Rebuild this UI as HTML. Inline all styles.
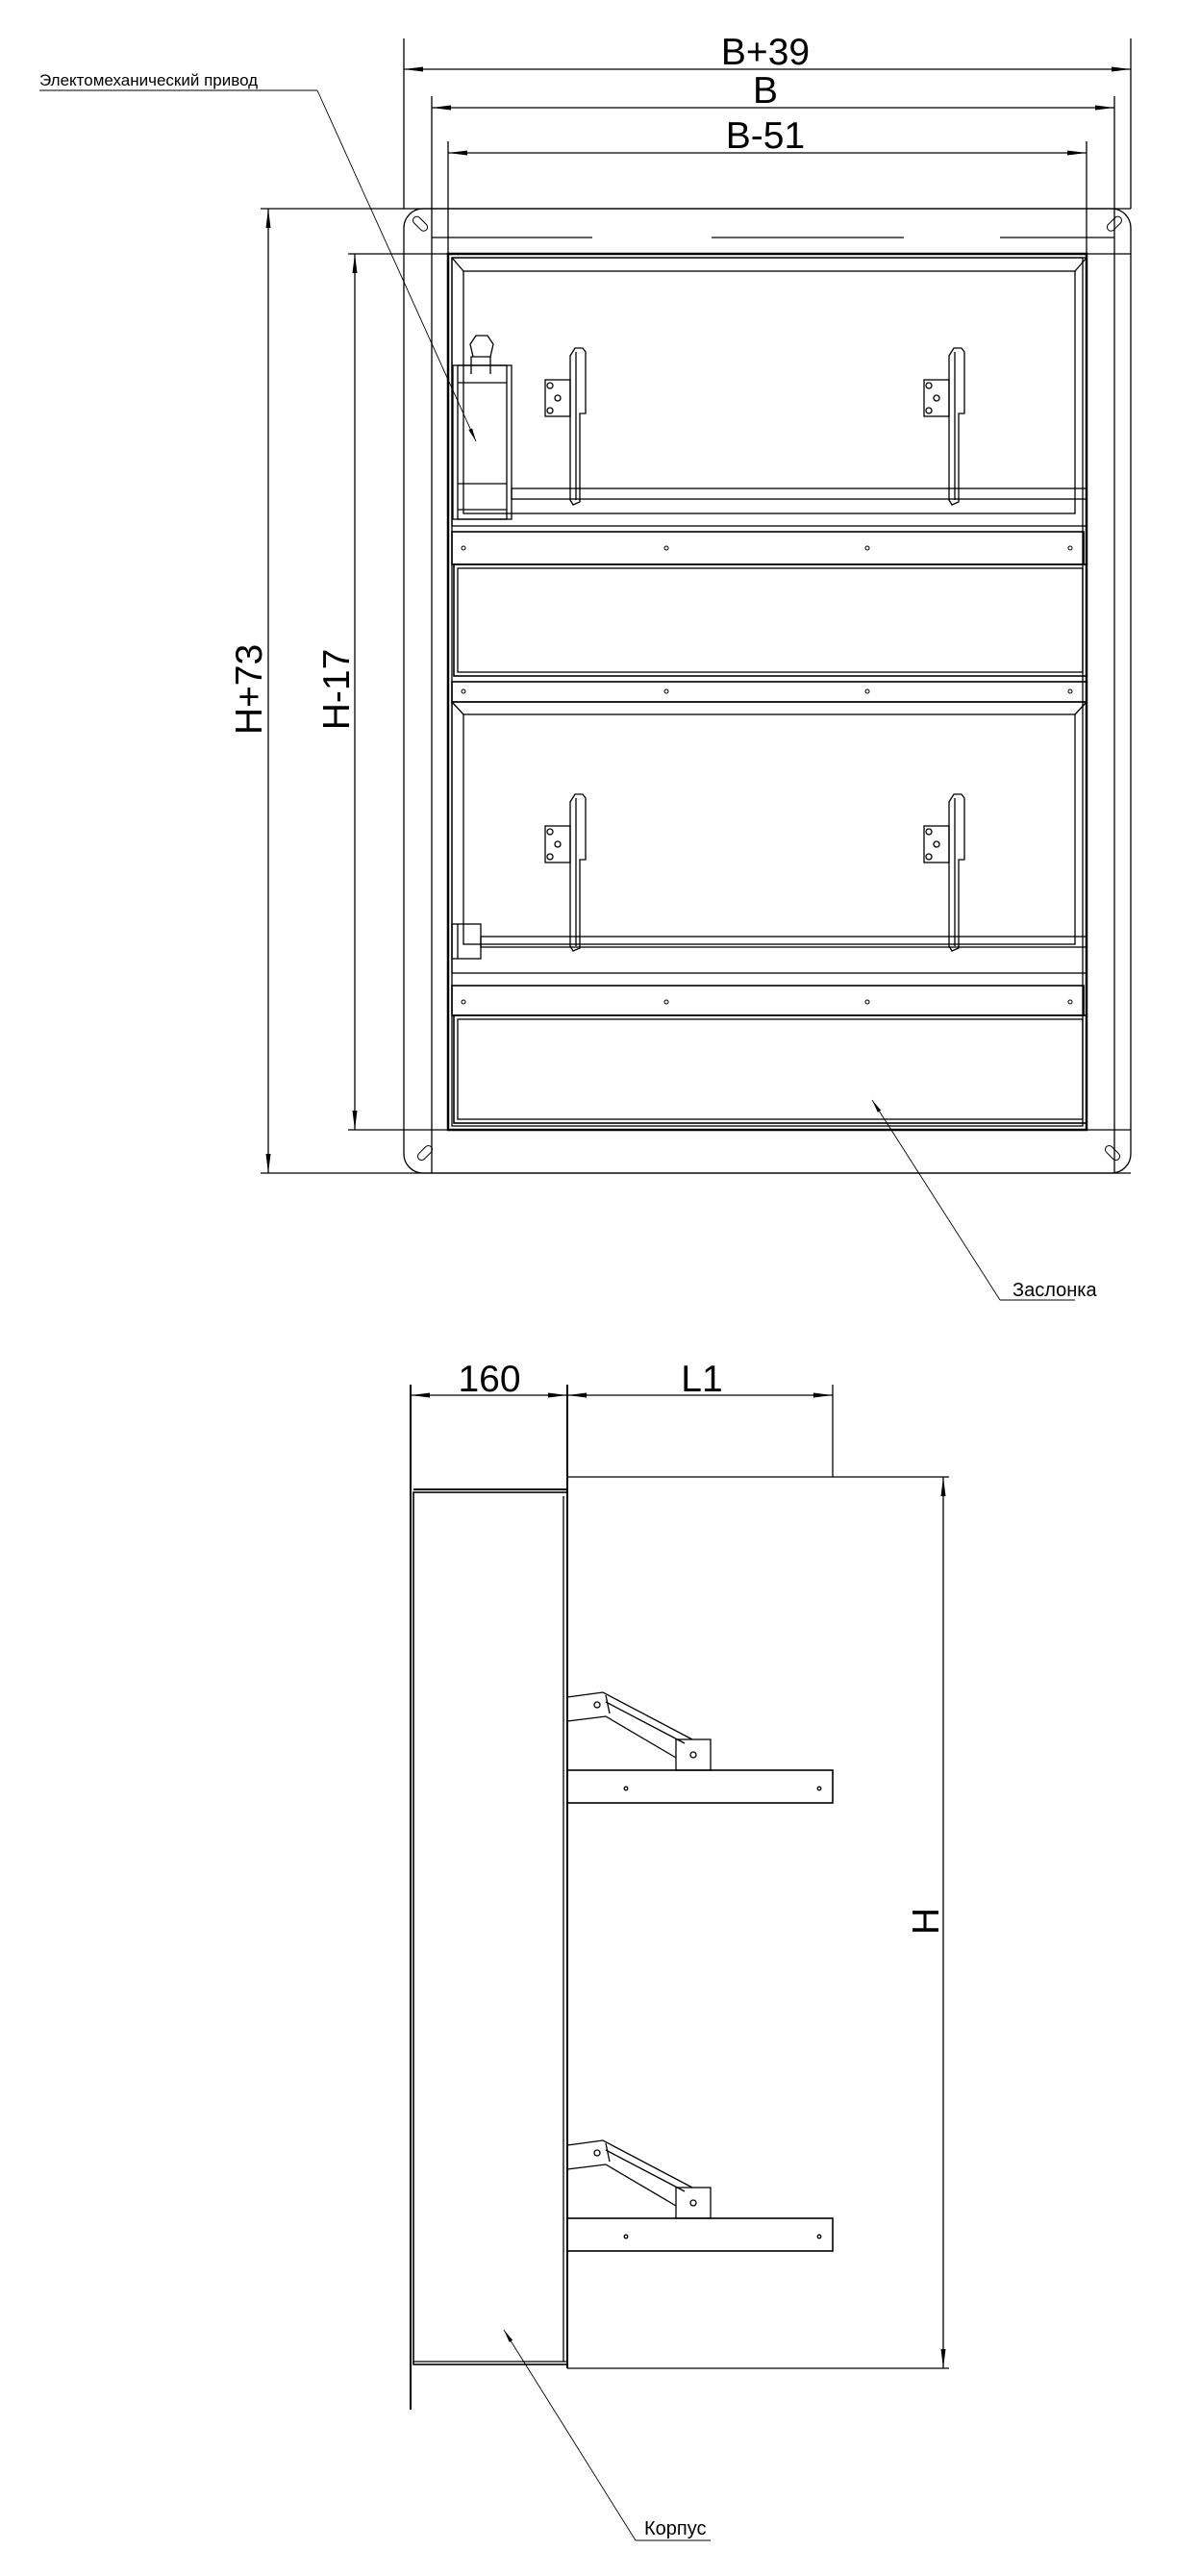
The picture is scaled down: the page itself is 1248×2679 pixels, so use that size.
<!DOCTYPE html>
<html><head><meta charset="utf-8"><style>
html,body{margin:0;padding:0;background:#fff;}
svg{display:block;}
text{font-family:"Liberation Sans","DejaVu Sans",sans-serif;fill:#000;}
</style></head><body>
<svg width="1248" height="2679" viewBox="0 0 1248 2679" xmlns="http://www.w3.org/2000/svg">
<defs>
<marker id="ar" markerWidth="20" markerHeight="8" refX="20" refY="4" orient="auto" markerUnits="userSpaceOnUse">
<path d="M0,1.5 L20,4 L0,6.5 Z" fill="#000"/></marker>
<marker id="al" markerWidth="20" markerHeight="8" refX="0" refY="4" orient="auto" markerUnits="userSpaceOnUse">
<path d="M20,1.5 L0,4 L20,6.5 Z" fill="#000"/></marker>
<marker id="la" markerWidth="14" markerHeight="6" refX="14" refY="3" orient="auto" markerUnits="userSpaceOnUse">
<path d="M0,1 L14,3 L0,5 Z" fill="#000"/></marker>
</defs>
<g stroke="#000" fill="none" stroke-width="1.3">
<!-- top dims -->
<line x1="420" y1="40" x2="420" y2="217"/><line x1="1176" y1="40" x2="1176" y2="217"/>
<line x1="449" y1="100" x2="449" y2="1220"/><line x1="1159" y1="100" x2="1159" y2="1220"/>
<line x1="466" y1="147" x2="466" y2="264"/><line x1="1130" y1="147" x2="1130" y2="264"/>
<line x1="420" y1="72" x2="1176" y2="72" marker-start="url(#al)" marker-end="url(#ar)"/>
<line x1="449" y1="112" x2="1159" y2="112" marker-start="url(#al)" marker-end="url(#ar)"/>
<line x1="466" y1="159" x2="1130" y2="159" marker-start="url(#al)" marker-end="url(#ar)"/>
<!-- flange -->
<path d="M440,217 H1156 A20,20 0 0 1 1176,237 V1200 A20,20 0 0 1 1156,1220 H440 A20,20 0 0 1 420,1200 V237 A20,20 0 0 1 440,217 Z"/>
<line x1="271" y1="217" x2="1176" y2="217"/>
<line x1="271" y1="1220" x2="1176" y2="1220"/>
<line x1="362" y1="264" x2="1176" y2="264"/>
<line x1="362" y1="1175" x2="1176" y2="1175"/>
<line x1="449" y1="247" x2="616" y2="247"/><line x1="740" y1="247" x2="940" y2="247"/><line x1="1040" y1="247" x2="1159" y2="247"/>
<g stroke-width="1"><rect x="433" y="228" width="18" height="8" rx="4" transform="rotate(45 442 232) translate(-3,4)"/>
<rect x="1145" y="228" width="18" height="8" rx="4" transform="rotate(-45 1154 232) translate(3,4)"/>
<rect x="433" y="1195" width="18" height="8" rx="4" transform="rotate(-45 442 1199)"/>
<rect x="1148" y="1195" width="18" height="8" rx="4" transform="rotate(45 1157 1199)"/></g>
<!-- H dims -->
<line x1="279" y1="217" x2="279" y2="1220" marker-start="url(#al)" marker-end="url(#ar)"/>
<line x1="369" y1="264" x2="369" y2="1175" marker-start="url(#al)" marker-end="url(#ar)"/>
<!-- frame -->
<rect x="466" y="264" width="664" height="911" stroke-width="2.5"/>
<rect x="470" y="268" width="656" height="903"/>
<!-- blade 1 -->
<rect x="470" y="268" width="660" height="279"/>
<rect x="482" y="282" width="636" height="252"/>
<line x1="470" y1="268" x2="482" y2="282"/><line x1="1130" y1="268" x2="1118" y2="282"/>
<rect x="470" y="553" width="657" height="34" stroke-width="1.6"/>
<rect x="472" y="587" width="658" height="116" stroke-width="1.6"/>
<rect x="476" y="591" width="650" height="108"/>
<rect x="470" y="709" width="660" height="21" stroke-width="1.6"/>
<!-- blade 2 -->
<rect x="470" y="730" width="660" height="282"/>
<rect x="482" y="743" width="636" height="239"/>
<line x1="470" y1="730" x2="482" y2="743"/><line x1="1130" y1="730" x2="1118" y2="743"/>
<rect x="470" y="1025" width="657" height="31" stroke-width="1.6"/>
<rect x="472" y="1056" width="658" height="112" stroke-width="1.6"/>
<rect x="476" y="1060" width="650" height="104"/>
<!-- shafts -->
<rect x="532" y="508" width="598" height="11"/>
<rect x="500" y="974" width="630" height="11"/>
<!-- actuator -->
<rect x="471" y="380" width="61" height="160"/>
<rect x="476" y="380" width="51" height="160"/>
<line x1="476" y1="398" x2="527" y2="398"/><line x1="476" y1="503" x2="527" y2="503"/>
<line x1="476" y1="530" x2="527" y2="530"/>
<path d="M490,389 V371 H510 V389"/><path d="M492,371 L489,358 L495,349 H507 L513,358 L510,371"/>
<rect x="470" y="961" width="30" height="36"/><line x1="476" y1="961" x2="476" y2="997"/>
<!-- levers -->
<g id="lv">
<path d="M593,370 L598,362 H606 L609,366 V430 H603 V522 L596,525 L593,520 Z"/>
<line x1="599" y1="366" x2="599" y2="520"/>
<rect x="567" y="395" width="26" height="38"/>
<circle cx="572" cy="401" r="3"/><circle cx="580" cy="414" r="3"/><circle cx="572" cy="427" r="3"/>
</g>
<use href="#lv" transform="translate(394,0)"/>
<use href="#lv" transform="translate(0,464)"/>
<use href="#lv" transform="translate(394,464)"/>
<!-- dots -->
<g stroke-width="1"><circle cx="482" cy="570" r="2"/><circle cx="693" cy="570" r="2"/><circle cx="902" cy="570" r="2"/><circle cx="1113" cy="570" r="2"/>
<circle cx="482" cy="719" r="2"/><circle cx="693" cy="719" r="2"/><circle cx="902" cy="719" r="2"/><circle cx="1113" cy="719" r="2"/>
<circle cx="482" cy="1042" r="2"/><circle cx="693" cy="1042" r="2"/><circle cx="902" cy="1042" r="2"/><circle cx="1113" cy="1042" r="2"/></g>
<!-- leaders top -->
<g stroke-width="0.9">
<line x1="41" y1="94" x2="330" y2="94"/>
<line x1="330" y1="94" x2="495" y2="459" marker-end="url(#la)"/>
<line x1="1040" y1="1352" x2="907" y2="1144" marker-end="url(#la)"/>
<line x1="1040" y1="1352" x2="1118" y2="1352"/>
</g>
<!-- side view -->
<line x1="427" y1="1440" x2="427" y2="2506" stroke-width="2"/>
<line x1="590" y1="1440" x2="590" y2="2463" stroke-width="2"/>
<line x1="866" y1="1440" x2="866" y2="1536"/>
<line x1="427" y1="1451" x2="590" y2="1451" marker-start="url(#al)" marker-end="url(#ar)"/>
<line x1="590" y1="1451" x2="866" y2="1451" marker-start="url(#al)" marker-end="url(#ar)"/>
<rect x="430" y="1552" width="160" height="907" stroke-width="1.6"/>
<line x1="430" y1="1549" x2="590" y2="1549" stroke-width="2"/>
<line x1="430" y1="2456" x2="590" y2="2456"/>
<line x1="586" y1="1556" x2="586" y2="2456"/>
<line x1="590" y1="1536" x2="987" y2="1536"/>
<line x1="590" y1="2463" x2="987" y2="2463"/>
<line x1="981" y1="1536" x2="981" y2="2463" marker-start="url(#al)" marker-end="url(#ar)"/>
<g id="sb">
<rect x="590" y="1841" width="276" height="34" stroke-width="1.6"/>
<rect x="703" y="1809" width="36" height="32"/>
<circle cx="721" cy="1825" r="3"/>
<path d="M590,1765 L627,1760 L720,1809"/><path d="M590,1790 L630,1785 L703,1828"/>
<path d="M630,1763 L634,1782"/><path d="M630,1770 L712,1813"/>
<circle cx="621" cy="1773" r="3"/>
<circle cx="651" cy="1860" r="1.8"/><circle cx="852" cy="1860" r="1.8"/>
</g>
<use href="#sb" transform="translate(0,466)"/>
<g stroke-width="0.9">
<line x1="661" y1="2642" x2="524" y2="2423" marker-end="url(#la)"/>
<line x1="661" y1="2642" x2="739" y2="2642"/>
</g>
</g>
<text x="796" y="67" font-size="39" text-anchor="middle">B+39</text>
<text x="796" y="107" font-size="39" text-anchor="middle">B</text>
<text x="796" y="154" font-size="39" text-anchor="middle">B-51</text>
<text x="41" y="89" font-size="17">Электомеханический привод</text>
<text x="1053" y="1348" font-size="20">Заслонка</text>
<text transform="translate(272,717) rotate(-90)" font-size="39" text-anchor="middle">H+73</text>
<text transform="translate(363,717) rotate(-90)" font-size="39" text-anchor="middle">H-17</text>
<text x="509" y="1447" font-size="39" text-anchor="middle">160</text>
<text x="730" y="1447" font-size="39" text-anchor="middle">L1</text>
<text transform="translate(976,1998) rotate(-90)" font-size="39" text-anchor="middle">H</text>
<text x="670" y="2636" font-size="20">Корпус</text>
</svg>
</body></html>
